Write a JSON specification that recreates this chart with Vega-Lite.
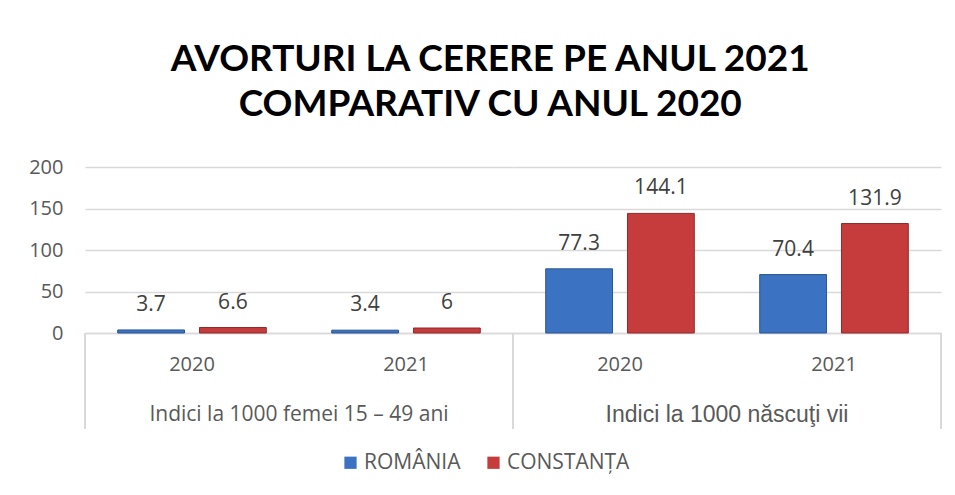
{
  "$schema": "https://vega.github.io/schema/vega-lite/v6.json",
  "padding": {"left": 28, "top": 41, "right": 12, "bottom": 8},
  "bounds": "flush",
  "background": "white",
  "title": {
    "text": ["AVORTURI LA CERERE PE ANUL 2021", "COMPARATIV CU ANUL 2020"],
    "font": "Lato",
    "fontSize": 37,
    "fontWeight": "bold",
    "color": "#000000",
    "lineHeight": 45,
    "anchor": "middle",
    "frame": "bounds",
    "dx": 5,
    "offset": 33
  },
  "data": {
    "values": [
      {"group": "Indici la 1000 femei 15 – 49 ani", "year": "2020", "series": "ROMÂNIA", "value": 3.7},
      {"group": "Indici la 1000 femei 15 – 49 ani", "year": "2020", "series": "CONSTANȚA", "value": 6.6},
      {"group": "Indici la 1000 femei 15 – 49 ani", "year": "2021", "series": "ROMÂNIA", "value": 3.4},
      {"group": "Indici la 1000 femei 15 – 49 ani", "year": "2021", "series": "CONSTANȚA", "value": 6},
      {"group": "Indici la 1000 născuţi vii", "year": "2020", "series": "ROMÂNIA", "value": 77.3},
      {"group": "Indici la 1000 născuţi vii", "year": "2020", "series": "CONSTANȚA", "value": 144.1},
      {"group": "Indici la 1000 născuţi vii", "year": "2021", "series": "ROMÂNIA", "value": 70.4},
      {"group": "Indici la 1000 născuţi vii", "year": "2021", "series": "CONSTANȚA", "value": 131.9}
    ]
  },
  "facet": {
    "column": {
      "field": "group",
      "type": "nominal",
      "sort": ["Indici la 1000 femei 15 – 49 ani", "Indici la 1000 născuţi vii"],
      "header": {
        "title": null,
        "labelOrient": "bottom",
        "labelFont": {"expr": "indexof(parent['group'], 'vii') >= 0 ? 'Liberation Sans' : 'Open Sans'"},
        "labelFontSize": {"expr": "indexof(parent['group'], 'vii') >= 0 ? 23 : 21"},
        "labelColor": "#595959",
        "labelPadding": 30
      }
    }
  },
  "spacing": 0,
  "resolve": {"scale": {"x": "shared"}},
  "spec": {
    "width": 428,
    "height": 166,
    "encoding": {
      "x": {
        "field": "year",
        "type": "ordinal",
        "scale": {"paddingInner": 0, "paddingOuter": 0},
        "axis": {
          "title": null,
          "labelAngle": 0,
          "labelFont": "Open Sans",
          "labelFontSize": 20,
          "labelColor": "#595959",
          "labelPadding": 21,
          "ticks": false,
          "domainColor": "#d9d9d9",
          "domainWidth": 1.5
        }
      },
      "xOffset": {
        "field": "series",
        "type": "nominal",
        "sort": ["ROMÂNIA", "CONSTANȚA"],
        "scale": {"paddingInner": 0.183, "paddingOuter": 0.4}
      },
      "y": {
        "field": "value",
        "type": "quantitative",
        "scale": {"domain": [0, 200], "nice": false},
        "axis": {
          "title": null,
          "values": [0, 50, 100, 150, 200],
          "domain": false,
          "ticks": false,
          "labelFont": "Open Sans",
          "labelFontSize": 20,
          "labelColor": "#595959",
          "labelPadding": 22,
          "gridColor": "#d9d9d9",
          "gridWidth": 1.5
        }
      }
    },
    "layer": [
      {
        "mark": {"type": "bar", "strokeWidth": 1},
        "encoding": {
          "color": {
            "field": "series",
            "type": "nominal",
            "sort": ["ROMÂNIA", "CONSTANȚA"],
            "scale": {"domain": ["ROMÂNIA", "CONSTANȚA"], "range": ["#3b73c2", "#c63b3c"]},
            "legend": {
              "title": null,
              "orient": "bottom",
              "direction": "horizontal",
              "symbolType": "square",
              "symbolSize": 150,
              "symbolStrokeWidth": 0,
              "labelFont": "Open Sans",
              "labelFontSize": 21,
              "labelColor": "#595959",
              "columnPadding": 22,
              "labelOffset": 3,
              "offset": 22
            }
          },
          "stroke": {
            "field": "series",
            "type": "nominal",
            "scale": {"domain": ["ROMÂNIA", "CONSTANȚA"], "range": ["#2b5592", "#8e2a2b"]},
            "legend": null
          }
        }
      },
      {
        "mark": {"type": "text", "baseline": "middle", "dy": -25, "font": "Open Sans", "fontSize": 21, "color": "#404040"},
        "encoding": {
          "text": {"field": "value", "type": "quantitative"}
        }
      },
      {
        "mark": {"type": "rule", "color": "#d9d9d9", "strokeWidth": 1.5},
        "encoding": {
          "x": {"datum": "2020", "type": "ordinal", "bandPosition": 0},
          "xOffset": null,
          "y": {"datum": 0, "type": "quantitative"},
          "y2": {"datum": -115}
        }
      },
      {
        "mark": {"type": "rule", "color": "#d9d9d9", "strokeWidth": 1.5},
        "encoding": {
          "x": {"datum": "2021", "type": "ordinal", "bandPosition": 1},
          "xOffset": null,
          "y": {"datum": 0, "type": "quantitative"},
          "y2": {"datum": -115}
        }
      }
    ]
  },
  "config": {
    "view": {"stroke": null},
    "legend": {"layout": {"bottom": {"anchor": "middle"}}}
  }
}
